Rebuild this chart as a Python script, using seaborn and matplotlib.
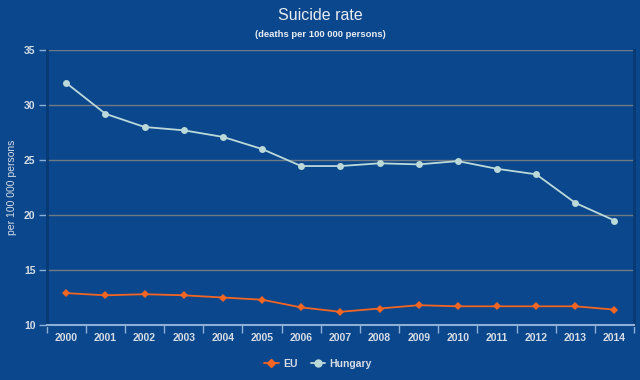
import matplotlib
matplotlib.use("Agg")
import matplotlib.pyplot as plt
import seaborn as sns
import pandas as pd
import numpy as np
from matplotlib.lines import Line2D

years = [str(y) for y in range(2000, 2015)]
eu = [12.9, 12.7, 12.8, 12.7, 12.5, 12.3, 11.6, 11.2, 11.5, 11.8, 11.7, 11.7, 11.7, 11.7, 11.4]
hungary = [32.0, 29.2, 28.0, 27.7, 27.1, 26.0, 24.45, 24.45, 24.7, 24.6, 24.9, 24.2, 23.7, 21.1, 19.5]
yticks = [10, 15, 20, 25, 30, 35]

bg = "#0b478c"
txt = "#d6dde6"
eu_col = "#f26522"
hu_col = "#bcd9d9"

df = pd.DataFrame({
    "x": list(range(len(years))) * 2,
    "value": eu + hungary,
    "series": ["EU"] * len(years) + ["Hungary"] * len(years),
})

sns.set_theme(style="white")
plt.rcParams["font.family"] = ["Liberation Sans", "DejaVu Sans"]

fig = plt.figure(figsize=(6.4, 3.8), dpi=100, facecolor=bg)
ax = fig.add_axes([0.073, 0.1447, 0.9177, 0.7237])
ax.set_facecolor(bg)

palette = {"EU": eu_col, "Hungary": hu_col}
markers = {"EU": "D", "Hungary": "o"}
sns.lineplot(data=df, x="x", y="value", hue="series", style="series",
             palette=palette, markers=markers, dashes=False, linewidth=1.3,
             markersize=5, markeredgewidth=0, ax=ax, legend=False, zorder=3)
for line in ax.lines:
    if line.get_marker() == "D":
        line.set_markersize(3.8)

ax.set_xlim(-0.5, len(years) - 0.5)
ax.set_ylim(10, 35)
ax.set_yticks(yticks)
ax.set_yticklabels([str(t) for t in yticks])
ax.set_xticks(range(len(years)))
ax.set_xticklabels(years)
ax.set_xticks(np.arange(-0.5, len(years), 1), minor=True)

ax.grid(axis="y", color="#6f7a86", linewidth=1)
ax.set_axisbelow(True)

ax.spines["top"].set_visible(False)
ax.spines["right"].set_color("#083a73")
ax.spines["right"].set_linewidth(2)
ax.spines["left"].set_color("#083a73")
ax.spines["left"].set_linewidth(2)
ax.spines["bottom"].set_color("#8fb0d6")
ax.spines["bottom"].set_linewidth(1.5)

ax.tick_params(axis="x", which="major", bottom=False, length=0, pad=6, labelsize=7.5, labelcolor=txt)
ax.tick_params(axis="x", which="minor", bottom=True, length=6, width=1, color="#8fb0d6", direction="out")
ax.tick_params(axis="y", which="major", left=True, length=6, width=1, color="#8fb0d6", pad=2,
               direction="out", labelsize=7.5, labelcolor=txt)
for lab in ax.get_xticklabels() + ax.get_yticklabels():
    lab.set_fontweight("bold")

ax.set_xlabel("")
ax.set_ylabel("per 100 000 persons", color=txt, fontsize=7.5, labelpad=5)

fig.text(0.5, 0.958, "Suicide rate", ha="center", va="center", color="#e8edf3", fontsize=11.5)
fig.text(0.5, 0.91, "(deaths per 100 000 persons)", ha="center", va="center",
         color="#e8edf3", fontsize=6.8, fontweight="bold")

handles = [Line2D([], [], color=eu_col, marker="D", markersize=3.8, linewidth=1.3),
           Line2D([], [], color=hu_col, marker="o", markersize=5, linewidth=1.3)]
leg = fig.legend(handles, ["EU", "Hungary"], loc="center", bbox_to_anchor=(0.497, 0.042),
                 ncol=2, frameon=False, fontsize=7.5, handlelength=1.4, columnspacing=1.3,
                 handletextpad=0.4)
for t in leg.get_texts():
    t.set_color(txt)
    t.set_fontweight("bold")

fig.savefig("out.png", dpi=100, facecolor=bg)
